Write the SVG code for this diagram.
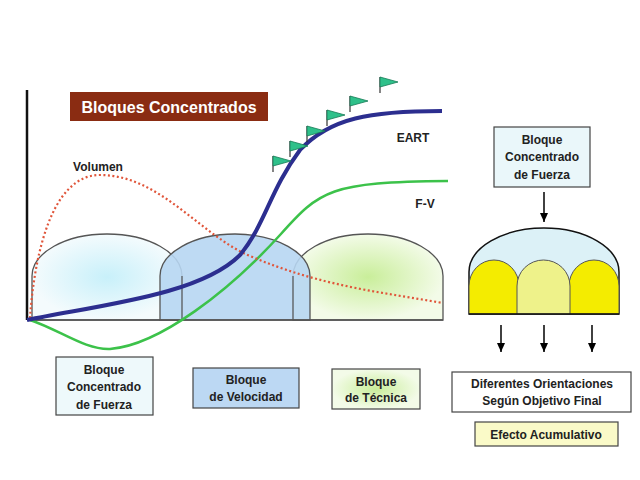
<svg xmlns="http://www.w3.org/2000/svg" width="640" height="480" viewBox="0 0 640 480">
<defs>
<radialGradient id="g1"><stop offset="0" stop-color="#c8f0fa"/><stop offset="1" stop-color="#f4fbfd"/></radialGradient>
<radialGradient id="g3"><stop offset="0" stop-color="#c9ee9a"/><stop offset="1" stop-color="#f3fbe8"/></radialGradient>
<marker id="ar" markerWidth="9" markerHeight="8" refX="9" refY="4" orient="auto" markerUnits="userSpaceOnUse"><path d="M0,0 L9,4 L0,8 Z" fill="#000"/></marker>
<g id="flag"><line x1="0" y1="0" x2="0" y2="16" stroke="#333" stroke-width="1.2"/><path d="M0,0 L18,5 L0,10 Z" fill="#2fc08a" stroke="#167a55" stroke-width="0.8"/></g>
</defs>
<style>
text{font-family:"Liberation Sans",Arial,sans-serif;font-weight:bold;fill:#222;text-anchor:middle}
.dome{stroke:#555;stroke-width:1.3}
.box{stroke:#444;stroke-width:1.2}
</style>
<rect width="640" height="480" fill="#fff"/>
<g id="domes">
<path class="dome" d="M32,320 V276 A75,42 0 0 1 182,276 V320 Z" fill="url(#g1)"/>
<path class="dome" d="M293,320 V276 A75,42 0 0 1 443,276 V320 Z" fill="url(#g3)"/>
<path class="dome" d="M160,320 V276 A75,42 0 0 1 310,276 V320 Z" fill="#b7d6f2" fill-opacity="0.9"/>
<path d="M182,276 V320 M293,276 V320" stroke="#555" stroke-width="1.2" fill="none"/>
</g>
<g id="axes" stroke="#111" stroke-width="2.5" fill="none">
<line x1="27" y1="90" x2="27" y2="320"/>
<line x1="27" y1="320" x2="443" y2="320" stroke="#555" stroke-width="1.5"/>
</g>
<g id="title"><rect x="70" y="92" width="198" height="29" fill="#8a2c12"/><text x="169" y="113" font-size="16" style="fill:#fff">Bloques Concentrados</text></g>
<g id="curves" fill="none">
<path d="M30,320 C60,330 85,350 110,349 C160,345 230,290 280,235 C320,190 330,182 448,181" stroke="#3cc24a" stroke-width="2.5"/>
<path d="M30,318 C34,260 50,175 100,175 C160,175 200,235 250,256 C320,286 380,292 443,303" stroke="#e0553a" stroke-width="2.2" stroke-dasharray="2,2.5"/>
<path d="M27,320 C100,305 200,295 240,255 C265,225 270,190 300,150 C330,118 370,111 442,111" stroke="#2c2e8f" stroke-width="4"/>
</g>
<g id="flags">
<use href="#flag" x="273" y="156"/>
<use href="#flag" x="290" y="141"/>
<use href="#flag" x="307" y="126"/>
<use href="#flag" x="327" y="110"/>
<use href="#flag" x="350" y="96"/>
<use href="#flag" x="380" y="77"/>
</g>
<g id="labels">
<text x="98" y="171" font-size="12">Volumen</text>
<text x="413" y="142" font-size="12">EART</text>
<text x="425" y="208" font-size="12">F-V</text>
</g>
<g id="b1"><rect class="box" x="56" y="357" width="97" height="58" fill="#eef9fb"/>
<text x="104" y="374" font-size="12">Bloque</text><text x="104" y="391" font-size="12">Concentrado</text><text x="104" y="409" font-size="12">de Fuerza</text></g>
<g id="b2"><rect class="box" x="193" y="368" width="106" height="40" fill="#bcd8f3"/>
<text x="246" y="384" font-size="12">Bloque</text><text x="246" y="401" font-size="12">de Velocidad</text></g>
<g id="b3"><rect class="box" x="332" y="369" width="88" height="40" fill="url(#g3)"/>
<text x="376" y="386" font-size="12">Bloque</text><text x="376" y="402" font-size="12">de Técnica</text></g>
<g id="r1"><rect class="box" x="494" y="127" width="96" height="60" fill="#eaf7fa"/>
<text x="542" y="144" font-size="12">Bloque</text><text x="542" y="161" font-size="12">Concentrado</text><text x="542" y="179" font-size="12">de Fuerza</text></g>
<g id="bigdome">
<path d="M469,314 V272 A75,44 0 0 1 619,272 V314 Z" fill="#dcf1f7" stroke="#111" stroke-width="1.5"/>
<path d="M469,314 V286 A25,26 0 0 1 519,286 V314 Z" fill="#f4ec00" stroke="#555" stroke-width="1"/>
<path d="M569,314 V286 A25,26 0 0 1 619,286 V314 Z" fill="#f4ec00" stroke="#555" stroke-width="1"/>
<path d="M517,314 V286 A26.5,26 0 0 1 570,286 V314 Z" fill="#eef28a" stroke="#555" stroke-width="1"/>
<line x1="469" y1="314" x2="619" y2="314" stroke="#111" stroke-width="1.5"/>
</g>
<g id="connectors" stroke="#111" stroke-width="1.6" marker-end="url(#ar)">
<line x1="544" y1="192" x2="544" y2="222"/>
<line x1="501" y1="325" x2="501" y2="352"/>
<line x1="544" y1="325" x2="544" y2="352"/>
<line x1="592" y1="325" x2="592" y2="352"/>
</g>
<g id="r2"><rect class="box" x="452" y="372" width="179" height="40" fill="#fff"/>
<text x="542" y="388" font-size="12">Diferentes Orientaciones</text><text x="542" y="405" font-size="12">Según Objetivo Final</text></g>
<g id="r3"><rect class="box" x="475" y="422" width="143" height="24" fill="#fafac8"/>
<text x="546" y="439" font-size="12">Efecto Acumulativo</text></g>
</svg>
